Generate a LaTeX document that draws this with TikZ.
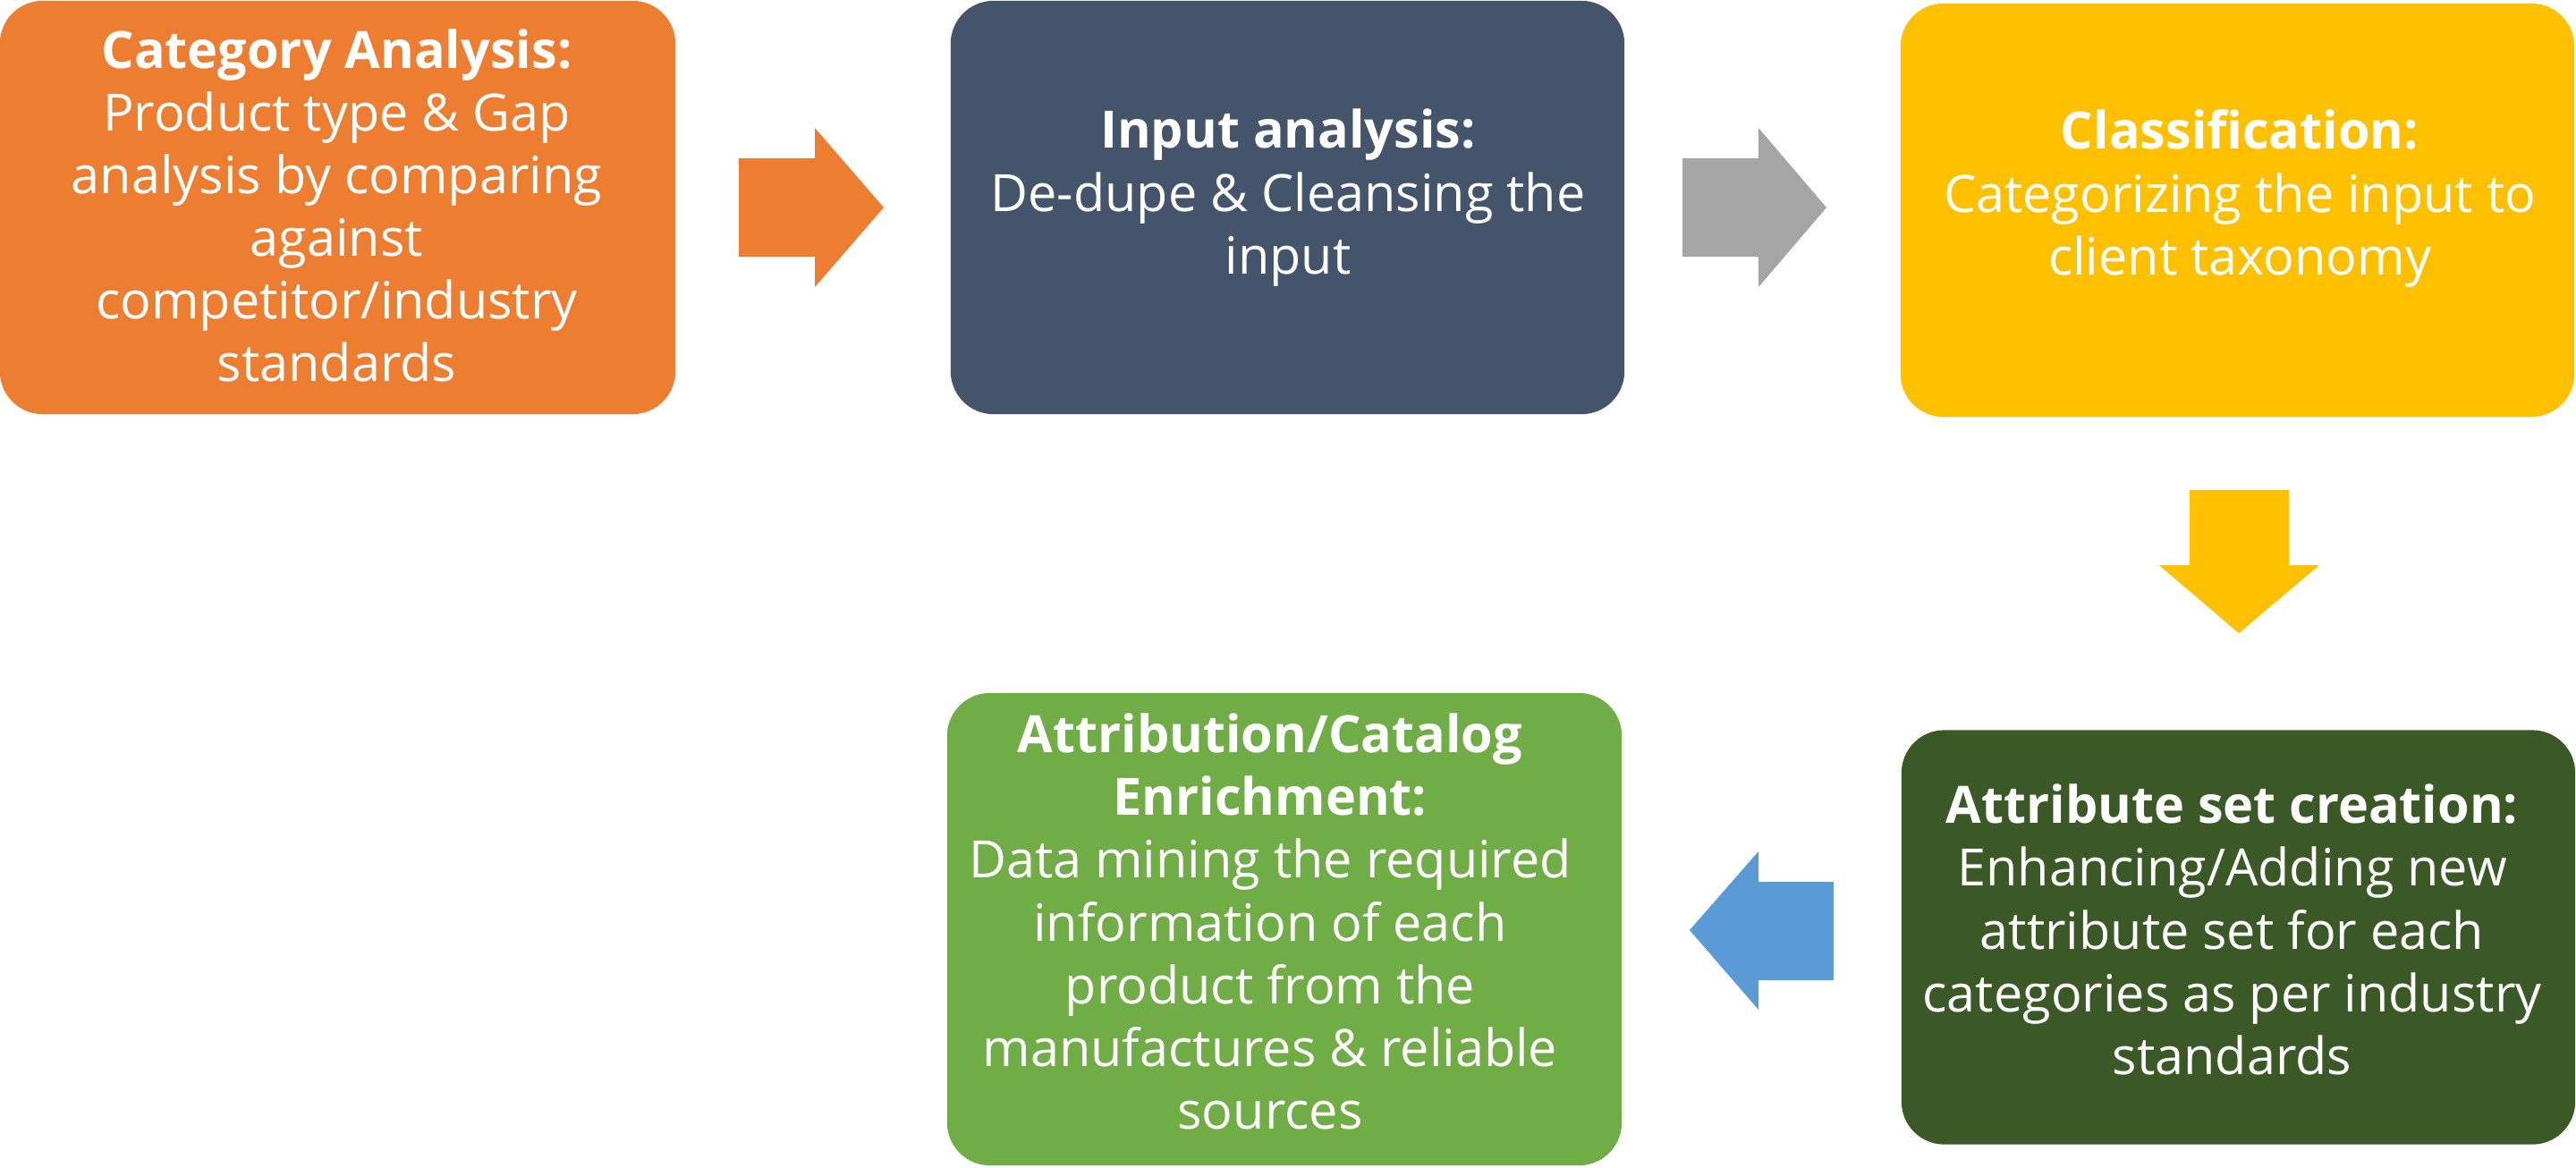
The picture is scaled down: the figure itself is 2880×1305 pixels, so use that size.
\documentclass[tikz,border=0pt]{standalone}
\usepackage{fontspec}
\setmainfont{Open Sans}
\usetikzlibrary{calc}
\definecolor{cOrange}{HTML}{ED7D31}
\definecolor{cSlate}{HTML}{44546A}
\definecolor{cGray}{HTML}{A5A5A5}
\definecolor{cYellow}{HTML}{FFC000}
\definecolor{cDark}{HTML}{3B5926}
\definecolor{cGreen}{HTML}{70AD47}
\definecolor{cBlue}{HTML}{5B9BD5}
\newcommand\mystrut{\rule[-0.21cm]{0pt}{0.70cm}}
\tikzset{
  box/.style={rectangle, rounded corners=0.48cm, inner sep=0pt, draw=none},
  txt/.style={inner sep=0pt, align=center, text=white,
    font=\fontsize{16.36pt}{19.92pt}\selectfont},
}
\begin{document}
\begin{tikzpicture}[x=0.01cm, y=-0.01cm]
\useasboundingbox (0,0) rectangle (2880,1305);
% boxes
\node[box, fill=cOrange, minimum width=7.55cm, minimum height=4.62cm] (b1) at (377.5,232) {};
\node[box, fill=cSlate,  minimum width=7.53cm, minimum height=4.62cm] (b2) at (1439.5,232) {};
\node[box, fill=cYellow, minimum width=7.53cm, minimum height=4.62cm] (b3) at (2501.5,235) {};
\node[box, fill=cDark,   minimum width=7.53cm, minimum height=4.63cm] (b4) at (2502.5,1048) {};
\node[box, fill=cGreen,  minimum width=7.54cm, minimum height=5.28cm] (b5) at (1436,1039) {};
% texts
\node[txt] (t1) at ($(b1.center)+(-1,5.5)$) {\mystrut\textbf{Category Analysis:}\\
\mystrut Product type \& Gap\\ \mystrut analysis by comparing\\ \mystrut against\\
\mystrut competitor/industry\\ \mystrut standards};
\node[txt] (t2) at ($(b2.center)+(0.5,-10)$) {\mystrut\textbf{Input analysis:}\\
\mystrut De-dupe \& Cleansing the\\ \mystrut input};
\node[txt] (t3) at ($(b3.center)+(2.5,-12)$) {\mystrut\textbf{Classification:}\\
\mystrut Categorizing the input to\\ \mystrut client taxonomy};
\node[txt] (t4) at ($(b4.center)+(-7,-1)$) {\mystrut\textbf{Attribute set creation:}\\
\mystrut Enhancing/Adding new\\ \mystrut attribute set for each\\
\mystrut categories as per industry\\ \mystrut standards};
\node[txt] (t5) at ($(b5.center)+(-16,-1)$) {\mystrut\textbf{Attribution/Catalog}\\
\mystrut\textbf{Enrichment:}\\ \mystrut Data mining the required\\
\mystrut information of each\\ \mystrut product from the\\
\mystrut manufactures \& reliable\\ \mystrut sources};
% block arrows
\fill[cOrange] (826,177) -- (911,177) -- (911,143) -- (988,232) -- (911,321) -- (911,287) -- (826,287) -- cycle;
\fill[cGray] (1881,177) -- (1966,177) -- (1966,143) -- (2042,232) -- (1966,321) -- (1966,287) -- (1881,287) -- cycle;
\fill[cYellow] (2448,548) -- (2559,548) -- (2559,632) -- (2593,632) -- (2503,708) -- (2414,632) -- (2448,632) -- cycle;
\fill[cBlue] (2050,986) -- (2050,1096) -- (1966,1096) -- (1966,1129) -- (1889,1040) -- (1966,952) -- (1966,986) -- cycle;
\end{tikzpicture}
\end{document}
